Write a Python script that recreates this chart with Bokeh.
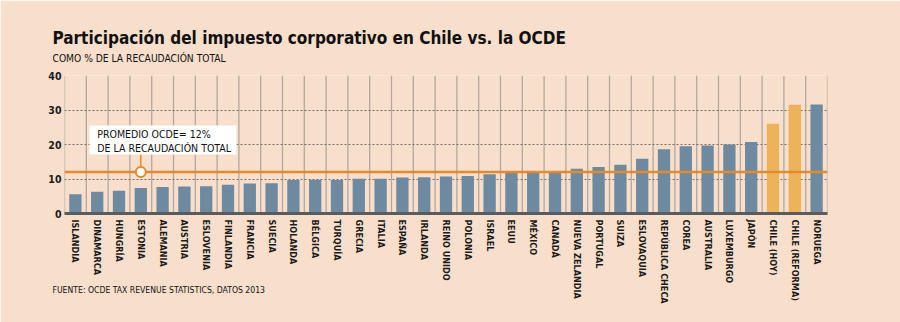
from bokeh.plotting import figure
from bokeh.models import FactorRange, Range1d, Label, Span, BoxAnnotation, FixedTicker, ColumnDataSource
from bokeh.embed import file_html
from bokeh.resources import INLINE

countries = ["ISLANDIA", "DINAMARCA", "HUNGRÍA", "ESTONIA", "ALEMANIA", "AUSTRIA",
             "ESLOVENIA", "FINLANDIA", "FRANCIA", "SUECIA", "HOLANDA", "BÉLGICA",
             "TURQUÍA", "GRECIA", "ITALIA", "ESPAÑA", "IRLANDA", "REINO UNIDO",
             "POLONIA", "ISRAEL", "EEUU", "MÉXICO", "CANADÁ", "NUEVA ZELANDIA",
             "PORTUGAL", "SUIZA", "ESLOVAQUIA", "REPÚBLICA CHECA", "COREA",
             "AUSTRALIA", "LUXEMBURGO", "JAPÓN", "CHILE (HOY)", "CHILE (REFORMA)", "NORUEGA"]
values = [5.6, 6.3, 6.6, 7.4, 7.7, 7.8, 7.9, 8.3, 8.7, 8.8, 9.7, 9.8,
          9.7, 10.1, 10.1, 10.4, 10.5, 10.7, 10.9, 11.4, 11.9, 11.9, 11.9, 13.0,
          13.5, 14.1, 15.9, 18.6, 19.5, 19.7, 20.0, 20.7, 26.0, 31.5, 31.6]
highlight = ["CHILE (HOY)", "CHILE (REFORMA)"]
ocde_avg = 12
avg_country = "ESTONIA"
y_ticks = [0, 10, 20, 30, 40]

title = "Participación del impuesto corporativo en Chile vs. la OCDE"
subtitle = "COMO % DE LA RECAUDACIÓN TOTAL"
source_note = "FUENTE: OCDE TAX REVENUE STATISTICS, DATOS 2013"
note_lines = ["PROMEDIO OCDE= 12%", "DE LA RECAUDACIÓN TOTAL"]

BG = "#f8dfcc"
BLUE = "#6e8aa0"
GOLD = "#ecb358"
ORANGE = "#e28b2b"
FONT = "DejaVu Sans Condensed"

colors = [GOLD if c in highlight else BLUE for c in countries]
src = ColumnDataSource(dict(cat=countries, val=values, color=colors))

p = figure(width=900, height=322,
           x_range=FactorRange(factors=countries, range_padding=0),
           y_range=Range1d(0, 40),
           output_backend="svg", toolbar_location=None,
           min_border_left=64, min_border_right=73,
           min_border_top=75, min_border_bottom=109)
p.background_fill_color = BG
p.border_fill_color = BG
p.outline_line_color = None

# vertical separators between categories
bounds = list(range(len(countries) + 1))
p.segment(x0=bounds, y0=y_ticks[0], x1=bounds, y1=y_ticks[-1],
          line_color="#b3a79f", line_width=1.3, level="image")

p.xgrid.visible = False
p.ygrid.ticker = FixedTicker(ticks=y_ticks[1:])
p.ygrid.grid_line_color = "#766d66"
p.ygrid.grid_line_dash = "2 2"
p.ygrid.grid_line_width = 1

p.vbar(x="cat", top="val", width=0.565, source=src, fill_color="color", line_color=None)

p.xaxis.major_label_orientation = "vertical"
p.xaxis.major_tick_line_color = None
p.xaxis.major_tick_out = 0
p.xaxis.minor_tick_line_color = None
p.xaxis.axis_line_color = "#5b5b5b"
p.xaxis.axis_line_width = 3
p.xaxis.major_label_text_font = FONT
p.xaxis.major_label_text_font_style = "bold"
p.xaxis.major_label_text_font_size = "9px"
p.xaxis.major_label_text_color = "#1a1a1a"
p.xaxis.major_label_standoff = 6

p.yaxis.ticker = FixedTicker(ticks=y_ticks)
p.yaxis.axis_line_color = None
p.yaxis.major_tick_line_color = None
p.yaxis.major_tick_out = 0
p.yaxis.minor_tick_line_color = None
p.yaxis.major_label_text_font = FONT
p.yaxis.major_label_text_font_style = "bold"
p.yaxis.major_label_text_font_size = "10.5px"
p.yaxis.major_label_text_color = "#1a1a1a"
p.yaxis.major_label_standoff = 3

p.add_layout(Span(location=ocde_avg, dimension="width", line_color=ORANGE, line_width=2.5))

p.add_layout(BoxAnnotation(left=1.15, right=7.89, bottom=17.1, top=25.5,
                           fill_color="white", fill_alpha=1, line_color=None, level="overlay"))
p.segment(x0=[avg_country], y0=[ocde_avg], x1=[avg_country], y1=[17.1],
          line_color=ORANGE, line_width=1.5, level="overlay")
p.scatter(x=[avg_country], y=[ocde_avg], size=10, fill_color="white",
          line_color=ORANGE, line_width=2, level="overlay")

for txt, yy in zip(note_lines, [23.15, 19.1]):
    p.add_layout(Label(x=1.5, y=yy, text=txt, text_font=FONT, text_font_size="10.5px",
                       text_color="#111111", text_baseline="alphabetic", level="overlay"))

# header / footer: labels in the side panels (not clipped), placed with data units
p.add_layout(Label(x=-0.55, y=50.75, text=title,
                   text_font=FONT, text_font_style="bold", text_font_size="17px",
                   text_color="#111111", text_baseline="alphabetic"), "above")
p.add_layout(Label(x=-0.55, y=44.8, text=subtitle,
                   text_font=FONT, text_font_size="10.2px",
                   text_color="#111111", text_baseline="alphabetic"), "above")
p.add_layout(Label(x=-0.55, y=-22.3, text=source_note,
                   text_font=FONT, text_font_size="8.6px",
                   text_color="#111111", text_baseline="alphabetic"), "below")

open("out.html", "w").write(file_html(p, INLINE))
